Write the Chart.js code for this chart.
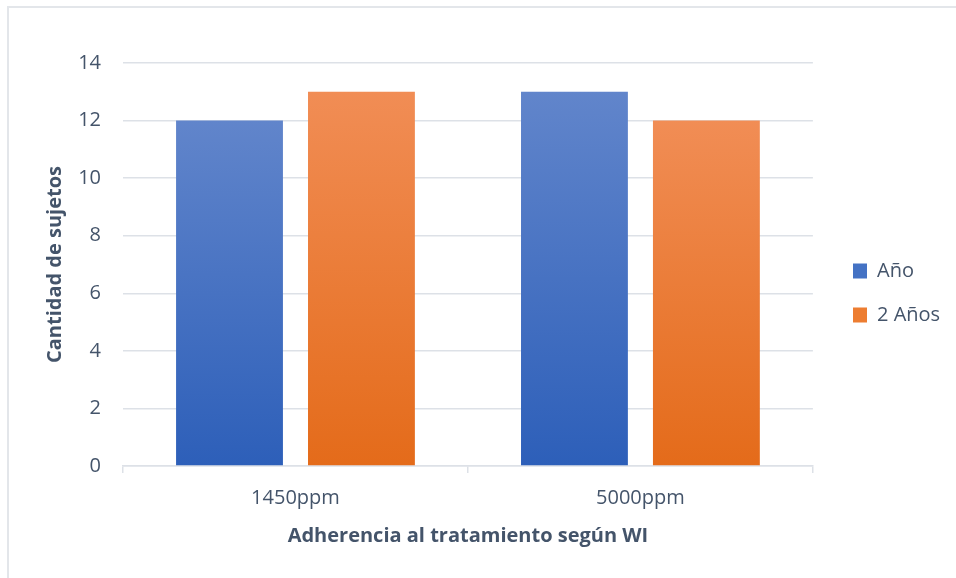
<!DOCTYPE html>
<html>
<head>
<meta charset="utf-8">
<script src="https://cdn.jsdelivr.net/npm/chart.js@4"></script>
<style>
  html, body { margin: 0; padding: 0; background: #fff; overflow: hidden; }
  #wrap { position: relative; width: 956px; height: 578px; overflow: hidden; }
  #frame { position: absolute; left: 7px; top: 6px; width: 2000px; height: 2000px; border: 2px solid #e3e6ea; box-sizing: border-box; }
  canvas { position: absolute; left: 0; top: 0; }
</style>
</head>
<body>
<div id="wrap">
  <div id="frame"></div>
  <canvas id="chart" width="956" height="578"></canvas>
</div>
<script>
// data
const categories = ['1450ppm', '5000ppm'];
const seriesNames = ['Año', '2 Años'];
const valuesAno = [12, 13];
const valuesDosAnos = [13, 12];
const yTicks = [0, 2, 4, 6, 8, 10, 12, 14];

const textColor = '#44546a';
const gridColor = '#dde1e7';
const fontFamily = '"Open Sans", sans-serif';

// per-bar vertical gradient, lighter at the top
function barGradient(ctx, top, bottom) {
  const chart = ctx.chart;
  if (!chart.chartArea || ctx.raw == null) return bottom;
  const y = chart.scales.y;
  const y0 = y.getPixelForValue(ctx.raw);
  const y1 = y.getPixelForValue(0);
  const g = chart.ctx.createLinearGradient(0, y0, 0, y1);
  g.addColorStop(0, top);
  g.addColorStop(1, bottom);
  return g;
}

const legendColors = ['#4472c4', '#ed7d31'];

// move the legend a bit right of the plot, like the original
const legendPlace = {
  id: 'legendPlace',
  afterLayout(chart) {
    const lg = chart.legend;
    const dx = 829 - lg.left;
    lg.left += dx; lg.right += dx;
    const dy = 237 - lg.top;
    lg.top += dy; lg.bottom += dy;
  }
};

new Chart(document.getElementById('chart'), {
  type: 'bar',
  data: {
    labels: categories,
    datasets: [
      {
        label: seriesNames[0],
        data: valuesAno,
        backgroundColor: ctx => barGradient(ctx, '#6185cb', '#2d5fb9'),
        categoryPercentage: 0.765,
        barPercentage: 0.81
      },
      {
        label: seriesNames[1],
        data: valuesDosAnos,
        backgroundColor: ctx => barGradient(ctx, '#f18d55', '#e46b1a'),
        categoryPercentage: 0.765,
        barPercentage: 0.81
      }
    ]
  },
  options: {
    responsive: false,
    animation: false,
    layout: { padding: { top: 63, left: 0, right: 22, bottom: 0 } },
    plugins: {
      tooltip: { enabled: false },
      legend: {
        position: 'right',
        align: 'start',
        labels: {
          color: textColor,
          font: { family: fontFamily, size: 20 },
          boxWidth: 14,
          boxHeight: 15,
          padding: 24,
          generateLabels(chart) {
            return chart.data.datasets.map((ds, i) => ({
              text: ds.label,
              fillStyle: legendColors[i],
              strokeStyle: legendColors[i],
              lineWidth: 0,
              fontColor: textColor,
              datasetIndex: i
            }));
          }
        }
      }
    },
    scales: {
      x: {
        afterFit(scale) { scale.height = 112; },
        grid: { drawOnChartArea: false, drawTicks: true, tickLength: 7, color: gridColor, lineWidth: 1.5 },
        border: { color: gridColor, width: 1.5 },
        ticks: { color: textColor, font: { family: fontFamily, size: 20 }, padding: 13 },
        title: {
          display: true,
          text: 'Adherencia al tratamiento según WI',
          color: textColor,
          font: { family: fontFamily, size: 20, weight: 'bold' },
          padding: { top: 4, bottom: 30 }
        }
      },
      y: {
        min: 0,
        max: 14,
        afterFit(scale) { scale.width = 123; },
        afterBuildTicks(scale) { scale.ticks = yTicks.map(v => ({ value: v })); },
        grid: { color: gridColor, lineWidth: 1.5, drawTicks: false },
        border: { display: false },
        ticks: { color: textColor, font: { family: fontFamily, size: 20 }, padding: 22 },
        title: {
          display: true,
          text: 'Cantidad de sujetos',
          color: textColor,
          font: { family: fontFamily, size: 20, weight: 'bold' },
          padding: { top: 43, bottom: 0 }
        }
      }
    }
  },
  plugins: [legendPlace]
});
</script>
</body>
</html>
